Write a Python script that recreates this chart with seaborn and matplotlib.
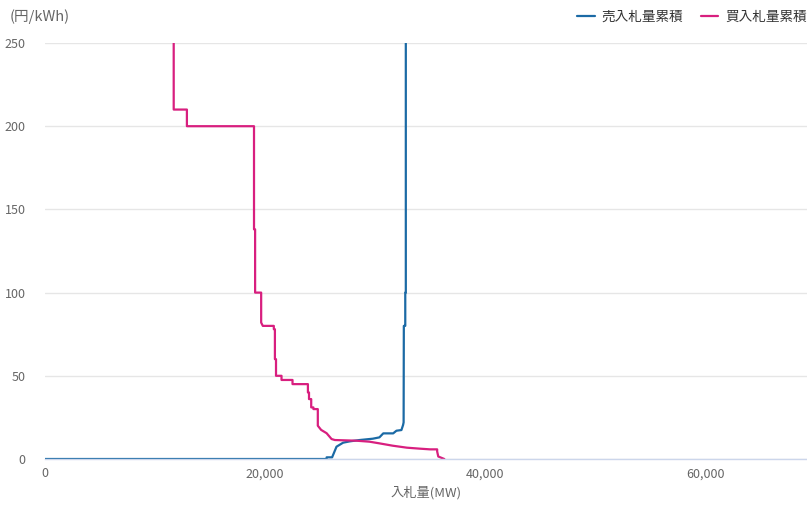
import matplotlib
matplotlib.use("Agg")
import matplotlib.pyplot as plt
import seaborn as sns
import pandas as pd
from matplotlib.ticker import FuncFormatter

# 売入札量累積 (sell curve): cumulative volume [MW], price [円/kWh]
sell_mw = [0, 25600, 25600, 26100, 26500, 27100, 27700, 28600, 29800, 30400,
           30750, 31650, 31950, 32400, 32550, 32600, 32620, 32750, 32750, 32800, 32800]
sell_price = [0, 0, 1, 1, 7.4, 9.8, 10.6, 11.4, 12.2, 13,
              15.4, 15.4, 17, 17.4, 20.4, 22, 80, 80, 100, 100, 250]

# 買入札量累積 (buy curve)
buy_mw = [11700, 11700, 12900, 12900, 19000, 19000, 19100, 19100, 19650, 19650,
          19800, 20800, 20800, 20900, 20900, 21000, 21000, 21500, 21500, 22500,
          22500, 23900, 23900, 24000, 24000, 24200, 24200, 24400, 24400, 24800,
          24800, 25100, 25600, 26050, 26350, 28300, 29500, 30400, 31600, 32900,
          34100, 35000, 35650, 35650, 35750, 36300]
buy_price = [250, 210, 210, 200, 200, 138, 138, 100, 100, 82,
             80, 80, 78, 78, 60, 60, 50, 50, 47.5, 47.5,
             45, 45, 40, 40, 36, 36, 31, 31, 30, 30,
             20, 17.5, 15.5, 12, 11.4, 11, 10.4, 9.4, 8, 6.8,
             6.2, 5.8, 5.8, 4.5, 1.5, 0]

sell_label = "売入札量累積"
buy_label = "買入札量累積"
sell_color = "#1b6aa5"
buy_color = "#d81f7f"

sns.set_style("white")
plt.rcParams["font.family"] = ["Noto Sans CJK JP", "DejaVu Sans"]

sell_df = pd.DataFrame({"mw": sell_mw, "price": sell_price})
buy_df = pd.DataFrame({"mw": buy_mw, "price": buy_price})

fig = plt.figure(figsize=(8.07, 5.05), dpi=100)
ax = fig.add_axes([45 / 807, 46 / 505, 762 / 807, 416 / 505])

sns.lineplot(data=sell_df, x="mw", y="price", sort=False, estimator=None,
             color=sell_color, linewidth=1.6, ax=ax, label=sell_label)
sns.lineplot(data=buy_df, x="mw", y="price", sort=False, estimator=None,
             color=buy_color, linewidth=1.6, ax=ax, label=buy_label)

ax.set_xlim(0, 69270)
ax.set_ylim(0, 250)
ax.set_xticks([0, 20000, 40000, 60000])
ax.set_yticks([0, 50, 100, 150, 200, 250])
ax.xaxis.set_major_formatter(FuncFormatter(lambda v, p: f"{int(v):,}"))

ax.grid(axis="y", color="#e6e6e6", linewidth=1)
ax.set_axisbelow(True)
for s in ["top", "right", "left"]:
    ax.spines[s].set_visible(False)
ax.spines["bottom"].set_color("#ccd6eb")
ax.spines["bottom"].set_linewidth(1)

ax.tick_params(axis="x", colors="#ccd6eb", length=7, width=1, labelcolor="#666666",
               labelsize=9, pad=-1)
ax.tick_params(axis="y", length=0, labelcolor="#666666", labelsize=9, pad=14)

ax.set_xlabel("入札量(MW)", color="#666666", fontsize=9.5, labelpad=4)
ax.set_ylabel("")
fig.text(10 / 807, 1 - 17 / 505, "(円/kWh)", color="#666666", fontsize=10.5,
         va="center", ha="left")

ax.legend(loc="center right", bbox_to_anchor=(1.0, 1 + 26 / 416), ncol=2,
          frameon=False, fontsize=9.8, handlelength=1.3, columnspacing=1.3,
          handletextpad=0.5, borderaxespad=0, borderpad=0, labelcolor="#333333")

fig.savefig("out.png", dpi=100)
